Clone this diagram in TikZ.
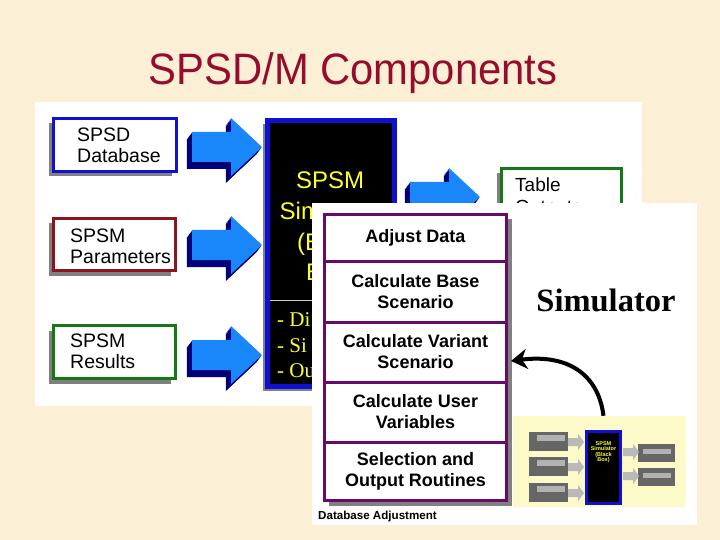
\documentclass[tikz,border=0pt]{standalone}
\usepackage{fontspec}
\setmainfont{Liberation Sans}
\newfontfamily\serifface{Liberation Serif}
\usetikzlibrary{arrows.meta,shadows}
\definecolor{cream}{RGB}{251,240,214}
\definecolor{titlered}{RGB}{150,12,45}
\definecolor{boxblue}{RGB}{16,16,210}
\definecolor{boxred}{RGB}{140,20,30}
\definecolor{boxgreen}{RGB}{20,120,20}
\definecolor{arrowfront}{RGB}{25,135,250}
\definecolor{arrowback}{RGB}{0,0,120}
\definecolor{stackpurple}{RGB}{102,10,110}
\definecolor{shadowgray}{RGB}{128,128,128}
\definecolor{paleyellow}{RGB}{252,250,200}
\definecolor{simyellow}{RGB}{255,255,40}
\newcommand{\fs}[1]{\fontsize{#1}{#1}\selectfont}
\newcommand{\fsb}[2]{\fontsize{#1}{#2}\selectfont}
\newcommand{\blockarrow}[2]{%
  \begin{scope}[shift={(#1,#2)}]
    \foreach \s in {1,...,7}{
      \fill[arrowback,shift={(-0.75*\s,\s)}] (-70,-15) -- (-31,-15) -- (-31,-29) -- (0,0) -- (-31,29) -- (-31,15) -- (-70,15) -- cycle;
    }
    \fill[arrowfront] (-70,-15) -- (-31,-15) -- (-31,-29) -- (0,0) -- (-31,29) -- (-31,15) -- (-70,15) -- cycle;
  \end{scope}}
\newcommand{\miniarrow}[2]{%
  \fill[shift={(#1,#2)},gray!55] (-16,-4) -- (-6,-4) -- (-6,-8) -- (0,0) -- (-6,8) -- (-6,4) -- (-16,4) -- cycle;}
\tikzset{
  inbox/.style={draw=#1,line width=3.5pt,fill=white,inner sep=0pt,
    drop shadow={shadow xshift=-5pt,shadow yshift=-5pt,fill=shadowgray,opacity=1}},
  boxtext/.style={anchor=base west,inner sep=0pt,font=\fs{19.5}},
  stackcell/.style={draw=stackpurple,line width=3pt,fill=white,inner sep=0pt,
    minimum width=182pt,align=center,font=\fsb{18}{21}\bfseries},
  bbtext/.style={anchor=base west,inner sep=0pt,text=simyellow,font=\fs{24}},
  bbserif/.style={anchor=base west,inner sep=0pt,text=simyellow,font=\serifface\fs{21}},
  minigray/.style={fill=gray!80!black,inner sep=0pt},
}
\begin{document}
\begin{tikzpicture}[x=1pt,y=-1pt]
\useasboundingbox (0,0) rectangle (720,540);
\fill[cream] (0,0) rectangle (720,540);
% title
\node[text=titlered,font=\fs{44},xscale=0.95,inner sep=0pt,anchor=base] (title) at (353,85) {SPSD/M Components};
% back panel
\fill[white] (35,102) rectangle (642,406);
\node[inbox=boxblue,minimum width=123pt,minimum height=53pt] (db) at (115,145) {};
\node[boxtext] (dbt1) at (77,142) {SPSD};
\node[boxtext] (dbt2) at (77,163) {Database};
\node[inbox=boxred,minimum width=122pt,minimum height=52pt] (par) at (114.5,244.5) {};
\node[boxtext] (part1) at (70,242) {SPSM};
\node[boxtext] (part2) at (70,263) {Parameters};
\node[inbox=boxgreen,minimum width=122pt,minimum height=53pt] (res) at (114.5,352) {};
\node[boxtext] (rest1) at (70,347) {SPSM};
\node[boxtext] (rest2) at (70,368) {Results};
\blockarrow{262}{147}
\blockarrow{262}{245}
\blockarrow{262}{355}
% black box
\node[draw=boxblue,fill=black,line width=5pt,minimum width=127pt,minimum height=266pt,inner sep=0pt,
  drop shadow={shadow xshift=-5pt,shadow yshift=-4pt,fill=shadowgray,opacity=1}] (sim) at (331,253.5) {};
\node[bbtext] (simt1) at (296,189) {SPSM};
\node[bbtext] (simt2) at (279.5,220) {Sim};
\node[bbtext] (simt3) at (297,250) {(B};
\node[bbtext] (simt4) at (306,280) {B};
\draw[gray!40,line width=1pt] (270,300) -- (393,300);
\node[bbserif] (simd1) at (277,326) {- Di};
\node[bbserif] (simd2) at (277,352) {- Si};
\node[bbserif] (simd3) at (277,377) {- Ou};
\blockarrow{480}{197}
\node[inbox=boxgreen,minimum width=120pt,minimum height=53pt] (tab) at (561.5,195) {};
\node[boxtext,font=\fs{19}] (tabt1) at (515,192) {Table};
\node[boxtext,font=\fs{19}] (tabt2) at (515,214) {Outputs};
% front panel
\fill[white] (312,203) rectangle (697,525);
\fill[shadowgray] (329,219) rectangle (512,506);
\node[stackcell,minimum height=46.5pt] (s1) at (415.5,237.75) {Adjust Data};
\node[stackcell,minimum height=61pt] (s2) at (415.5,291.5) {Calculate Base\\Scenario};
\node[stackcell,minimum height=60pt] (s3) at (415.5,352) {Calculate Variant\\Scenario};
\node[stackcell,minimum height=60pt] (s4) at (415.5,412) {Calculate User\\Variables};
\node[stackcell,minimum height=58.5pt] (s5) at (415.5,471.25) {Selection and\\Output Routines};
\node[font=\fs{11.6}\bfseries,anchor=base west,inner sep=0pt] (dbadj) at (318,519) {Database Adjustment};
\node[font=\serifface\fs{32.5}\bfseries,anchor=base,inner sep=0pt] (simlabel) at (606,311) {Simulator};
% mini diagram
\node[fill=paleyellow,minimum width=173pt,minimum height=91pt,inner sep=0pt] (mini) at (599.5,461.5) {};
\foreach \y/\n in {431/m1,456/m2,482/m3}{
  \node[minigray,minimum width=39pt,minimum height=19pt] (\n) at (548.5,\y+10) {};
  \fill[gray!60] (537,\y+4) rectangle (565,\y+10);
  \miniarrow{584}{\y+11}
}
\node[draw=boxblue,fill=black,line width=3pt,minimum width=34pt,minimum height=72pt,inner sep=0pt] (minisim) at (603.5,467.5) {};
\node[text=simyellow,font=\fs{5.5}\bfseries,align=center,inner sep=0pt] (minisimt) at (603.5,452) {SPSM\\Simulator\\(Black\\Box)};
\foreach \y/\n in {444/r1,468/r2}{
  \node[minigray,minimum width=37pt,minimum height=18pt] (\n) at (656.5,\y+9) {};
  \fill[gray!60] (643,\y+5) rectangle (671,\y+10);
  \miniarrow{639}{\y+8}
}
\coordinate (arrowtip) at ([yshift=-9pt]s3.east);
\draw[line width=4pt,-{Stealth[length=16pt,width=20pt,inset=5pt]}] (minisim.north |- mini.north) .. controls (598,372) and (565,354) .. ([xshift=3pt]arrowtip);
\end{tikzpicture}
\end{document}
